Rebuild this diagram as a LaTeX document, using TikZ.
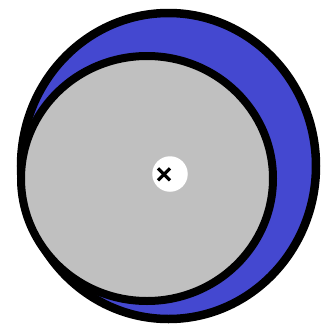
\documentclass[tikz,border=0pt]{standalone}
\definecolor{moonblue}{RGB}{68,72,208}
\definecolor{discgray}{RGB}{192,192,192}
\tikzset{
  rim/.style={draw=black, line width=8.5pt},
  crossline/.style={draw=black, line width=3.2pt, line cap=butt}
}
\begin{document}
\begin{tikzpicture}[x=1pt,y=-1pt]
\useasboundingbox (0,0) rectangle (322,327);
\fill[white] (0,0) rectangle (322,327);
\draw[rim, fill=moonblue] (168.5,166) ellipse [x radius=147.5, y radius=153];
\draw[rim, line width=8pt, fill=discgray] (147,178.5) ellipse [x radius=126, y radius=122.5];
\node[circle, fill=white, minimum size=35.5pt, inner sep=0pt] (hub) at (170,174) {};
\coordinate (xc) at (164,174.3);
\draw[crossline] ([shift={(-6,-6)}]xc) -- ([shift={(6,6)}]xc);
\draw[crossline] ([shift={(6,-6)}]xc) -- ([shift={(-6,6)}]xc);
\end{tikzpicture}
\end{document}
